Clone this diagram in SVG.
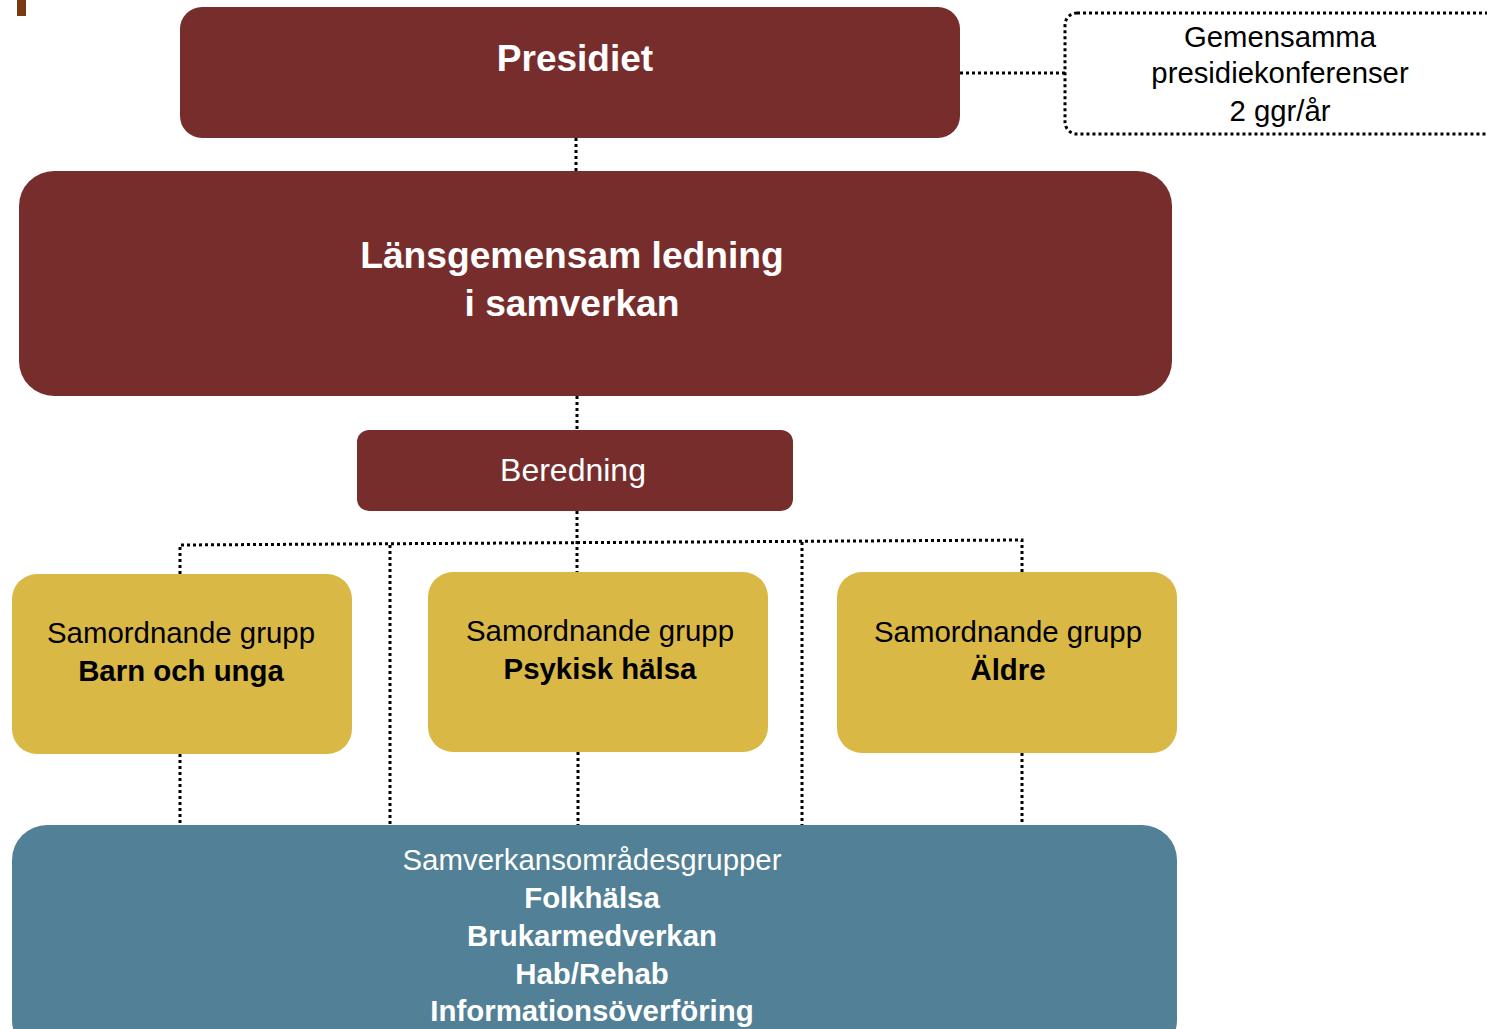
<svg xmlns="http://www.w3.org/2000/svg" width="1487" height="1029" viewBox="0 0 1487 1029">
<style>
.red{fill:#782D2D}
.yel{fill:#D9B845}
.blu{fill:#528096}
.dot{stroke:#000;stroke-width:3;stroke-dasharray:3 3;fill:none}
text{font-family:"Liberation Sans",Arial,sans-serif;text-anchor:middle}
.w{fill:#fff}
.k{fill:#000}
.b{font-weight:bold}
</style>
<rect x="17" y="0" width="9" height="16" fill="#7A3A10"/>
<g id="connectors">
<line class="dot" x1="960" y1="73" x2="1065" y2="73"/>
<line class="dot" x1="576" y1="138" x2="576" y2="171"/>
<line class="dot" x1="577" y1="396" x2="577" y2="430"/>
<line class="dot" x1="577" y1="511" x2="577" y2="572"/>
<polyline class="dot" points="180,574 180,545 1022,540 1022,572"/>
<line class="dot" x1="390" y1="545" x2="390" y2="825"/>
<line class="dot" x1="802" y1="542" x2="802" y2="825"/>
<line class="dot" x1="180" y1="754" x2="180" y2="825"/>
<line class="dot" x1="578" y1="752" x2="578" y2="825"/>
<line class="dot" x1="1022" y1="753" x2="1022" y2="825"/>
</g>
<g id="presidiet">
<rect class="red" x="180" y="7" width="780" height="131" rx="22"/>
<text class="w b" x="575" y="71" font-size="37">Presidiet</text>
</g>
<g id="gemensamma">
<rect class="dot" x="1065" y="13" width="440" height="121" rx="12"/>
<text class="k" x="1280" y="47" font-size="29.3">Gemensamma</text>
<text class="k" x="1280" y="83" font-size="29.3">presidiekonferenser</text>
<text class="k" x="1280" y="121" font-size="29.3">2 ggr/år</text>
</g>
<g id="lansgemensam">
<rect class="red" x="19" y="171" width="1153" height="225" rx="35"/>
<text class="w b" x="572" y="268" font-size="37.2">Länsgemensam ledning</text>
<text class="w b" x="572" y="316" font-size="37.2">i samverkan</text>
</g>
<g id="beredning">
<rect class="red" x="357" y="430" width="436" height="81" rx="12"/>
<text class="w" x="573" y="481" font-size="32">Beredning</text>
</g>
<g id="barn">
<rect class="yel" x="12" y="574" width="340" height="180" rx="25"/>
<text class="k" x="181" y="643" font-size="29.4">Samordnande grupp</text>
<text class="k b" x="181" y="681" font-size="29.4">Barn och unga</text>
</g>
<g id="psykisk">
<rect class="yel" x="428" y="572" width="340" height="180" rx="25"/>
<text class="k" x="600" y="641" font-size="29.4">Samordnande grupp</text>
<text class="k b" x="600" y="679" font-size="29.4">Psykisk hälsa</text>
</g>
<g id="aldre">
<rect class="yel" x="837" y="572" width="340" height="181" rx="25"/>
<text class="k" x="1008" y="642" font-size="29.4">Samordnande grupp</text>
<text class="k b" x="1008" y="680" font-size="29.4">Äldre</text>
</g>
<g id="samverkan">
<rect class="blu" x="12" y="825" width="1165" height="230" rx="35"/>
<text class="w" x="592" y="870" font-size="29.4">Samverkansområdesgrupper</text>
<text class="w b" x="592" y="908" font-size="29.4">Folkhälsa</text>
<text class="w b" x="592" y="946" font-size="29.4">Brukarmedverkan</text>
<text class="w b" x="592" y="984" font-size="29.4">Hab/Rehab</text>
<text class="w b" x="592" y="1021" font-size="29.4">Informationsöverföring</text>
</g>
</svg>
